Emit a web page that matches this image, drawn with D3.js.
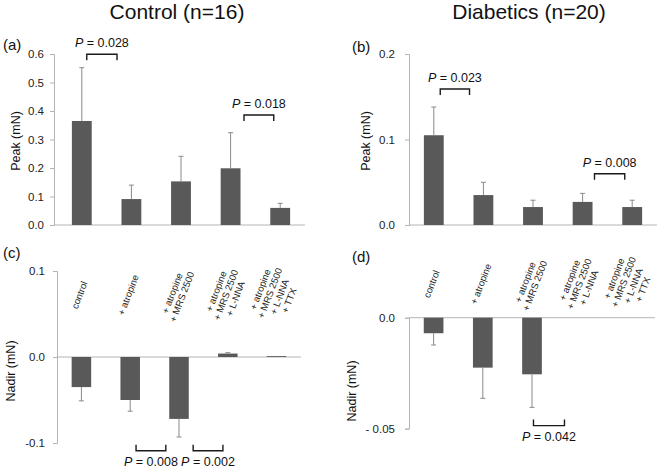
<!DOCTYPE html>
<html>
<head>
<meta charset="utf-8">
<script src="https://cdn.jsdelivr.net/npm/d3@7"></script>
<style>
  html, body { margin: 0; padding: 0; background: #fff; }
  svg { display: block; font-family: "Liberation Sans", Arial, sans-serif; }
</style>
</head>
<body>
<svg id="chart" width="660" height="470"></svg>
<script>
// ---------- data ----------
const categories = ["control", "+ atropine", "+ atropine|+ MRS 2500",
  "+ atropine|+ MRS 2500|+ L-NNA", "+ atropine|+ MRS 2500|+ L-NNA|+ TTX"];

const peakControl      = [0.365, 0.091, 0.153, 0.199, 0.060];
const peakControlSD    = [0.187, 0.049, 0.088, 0.125, 0.016];
const peakDiabetic     = [0.105, 0.035, 0.021, 0.027, 0.021];
const peakDiabeticSD   = [0.033, 0.015, 0.008, 0.010, 0.008];
const nadirControl     = [-0.035, -0.050, -0.072, 0.004, 0.001];
const nadirControlSD   = [0.016, 0.013, 0.021, 0.001, 0];
const nadirDiabetic    = [-0.007, -0.0225, -0.0255, 0, 0];
const nadirDiabeticSD  = [0.0053, 0.0138, 0.0149, 0, 0];

const ticksA = [0, 0.1, 0.2, 0.3, 0.4, 0.5, 0.6];
const tickLabelsA = ["0.0", "0.1", "0.2", "0.3", "0.4", "0.5", "0.6"];
const ticksB = [0, 0.1, 0.2];
const tickLabelsB = ["0.0", "0.1", "0.2"];
const ticksC = [-0.1, 0, 0.1];
const tickLabelsC = ["-0.1", "0.0", "0.1"];
const ticksD = [-0.05, 0];
const tickLabelsD = ["- 0.05", "0.0"];

// brackets: from/to in category units (0 = centre of first bar)
const bracketsA = [{from: 0.1, to: 0.71, y: 0.599, label: "0.028"},
                   {from: 3.27, to: 3.87, y: 0.386, label: "0.018"}];
const bracketsB = [{from: 0.13, to: 0.72, y: 0.159, label: "0.023"},
                   {from: 3.24, to: 3.85, y: 0.060, label: "0.008"}];
const bracketsC = [{from: 1.12, to: 1.73, y: -0.109, label: "0.008"},
                   {from: 2.29, to: 2.90, y: -0.109, label: "0.002"}];
const bracketsD = [{from: 2.03, to: 2.66, y: -0.0486, label: "0.042"}];

// ---------- drawing ----------
const svg = d3.select("#chart");
const BAR = "#595959", ERR = "#8a8a8a", AXIS = "#b4b4b4";

svg.append("text").attr("x", 177).attr("y", 19).attr("text-anchor", "middle")
  .attr("font-size", 21).attr("fill", "#111").text("Control (n=16)");
svg.append("text").attr("x", 529).attr("y", 19).attr("text-anchor", "middle")
  .attr("font-size", 21).attr("fill", "#111").text("Diabetics (n=20)");

function panel(cfg) {
  const g = svg.append("g");
  const x = d3.scaleBand().domain(d3.range(categories.length))
    .range(cfg.xRange).paddingInner(0.6).paddingOuter(0.3);
  const y = d3.scaleLinear().domain(cfg.domain).range(cfg.yRange);
  const step = x.step(), bw = x.bandwidth();
  const pos = t => x(0) + bw / 2 + t * step;

  // y axis
  const yAxis = d3.axisLeft(y).tickValues(cfg.ticks)
    .tickFormat((d, i) => cfg.tickLabels[i]).tickSize(4).tickPadding(cfg.pad);
  const ya = g.append("g").attr("transform", `translate(${cfg.axisX},0)`).call(yAxis);
  ya.select(".domain").attr("stroke", AXIS);
  ya.selectAll(".tick line").attr("stroke", AXIS);
  ya.selectAll(".tick text").attr("font-size", 11.5).attr("fill", "#222")
    .attr("font-family", "Liberation Sans, Arial, sans-serif");

  // baseline (zero line)
  g.append("line").attr("x1", cfg.axisX).attr("x2", cfg.xRange[1])
    .attr("y1", y(0)).attr("y2", y(0)).attr("stroke", AXIS).attr("stroke-width", 1);

  // bars
  g.selectAll("rect.bar").data(cfg.values).join("rect").attr("class", "bar")
    .attr("x", (d, i) => x(i)).attr("width", bw)
    .attr("y", d => Math.min(y(d), y(0)))
    .attr("height", d => Math.abs(y(d) - y(0)))
    .attr("fill", BAR);

  // error bars (one-sided, away from zero)
  const errs = cfg.values.map((v, i) => ({i, v, e: cfg.sd[i]})).filter(d => d.e > 0);
  errs.forEach(d => {
    const cx = x(d.i) + bw / 2;
    const end = d.v >= 0 ? d.v + d.e : d.v - d.e;
    g.append("line").attr("x1", cx).attr("x2", cx).attr("y1", y(d.v)).attr("y2", y(end))
      .attr("stroke", ERR).attr("stroke-width", 1);
    g.append("line").attr("x1", cx - 2.5).attr("x2", cx + 2.5).attr("y1", y(end)).attr("y2", y(end))
      .attr("stroke", ERR).attr("stroke-width", 1);
  });

  // brackets
  cfg.brackets.forEach(b => {
    const x1 = pos(b.from), x2 = pos(b.to), yy = y(b.y);
    const dir = cfg.down ? -1 : 1; // ticks direction
    g.append("path").attr("d", `M${x1},${yy + dir * 6}V${yy}H${x2}V${yy + dir * 6}`)
      .attr("fill", "none").attr("stroke", "#1a1a1a").attr("stroke-width", 1.4);
    const t = g.append("text").attr("x", (x1 + x2) / 2)
      .attr("y", cfg.down ? yy + 15 : yy - 7)
      .attr("text-anchor", "middle").attr("font-size", 12.5).attr("fill", "#111");
    t.append("tspan").attr("font-style", "italic").text("P");
    t.append("tspan").text(" = " + b.label);
  });

  // panel letter
  g.append("text").attr("x", cfg.letterPos[0]).attr("y", cfg.letterPos[1])
    .attr("font-size", 15).attr("fill", "#111").text(cfg.letter);

  // y label
  g.append("text").attr("transform", `translate(${cfg.ylabPos[0]},${cfg.ylabPos[1]}) rotate(-90)`)
    .attr("text-anchor", "middle").attr("font-size", 12.5).attr("fill", "#111").text(cfg.ylab);

  // category labels
  if (cfg.catY) {
    categories.forEach((c, i) => {
      const lines = c.split("|");
      const lg = g.append("g")
        .attr("transform", `translate(${x(i) + bw / 2 - 2},${cfg.catY}) rotate(-69)`);
      lines.forEach((ln, j) => {
        lg.append("text").attr("x", 0).attr("y", (j - (lines.length - 1) / 2) * 10.3)
          .attr("dy", "0.35em").attr("text-anchor", "middle")
          .attr("font-size", 9.5).attr("fill", "#222").text(ln);
      });
    });
  }
}

panel({values: peakControl, sd: peakControlSD, domain: [0, 0.6], yRange: [225, 54],
  xRange: [57, 305], axisX: 54, ticks: ticksA, tickLabels: tickLabelsA, pad: 6,
  brackets: bracketsA, down: false, letter: "(a)", letterPos: [3, 50],
  ylab: "Peak (mN)", ylabPos: [20, 141]});

panel({values: peakDiabetic, sd: peakDiabeticSD, domain: [0, 0.2], yRange: [225, 54],
  xRange: [409, 657], axisX: 409, ticks: ticksB, tickLabels: tickLabelsB, pad: 10,
  brackets: bracketsB, down: false, letter: "(b)", letterPos: [352, 52],
  ylab: "Peak (mN)", ylabPos: [370, 141]});

panel({values: nadirControl, sd: nadirControlSD, domain: [-0.1, 0.1], yRange: [443, 271],
  xRange: [57, 301], axisX: 57, ticks: ticksC, tickLabels: tickLabelsC, pad: 8,
  brackets: bracketsC, down: true, letter: "(c)", letterPos: [3, 258],
  ylab: "Nadir (mN)", ylabPos: [15, 371], catY: 295});

panel({values: nadirDiabetic, sd: nadirDiabeticSD, domain: [-0.05, 0], yRange: [428.7, 317.7],
  xRange: [409, 655], axisX: 409, ticks: ticksD, tickLabels: tickLabelsD, pad: 10,
  brackets: bracketsD, down: true, letter: "(d)", letterPos: [352, 262],
  ylab: "Nadir (mN)", ylabPos: [356, 391], catY: 284});
</script>
</body>
</html>
